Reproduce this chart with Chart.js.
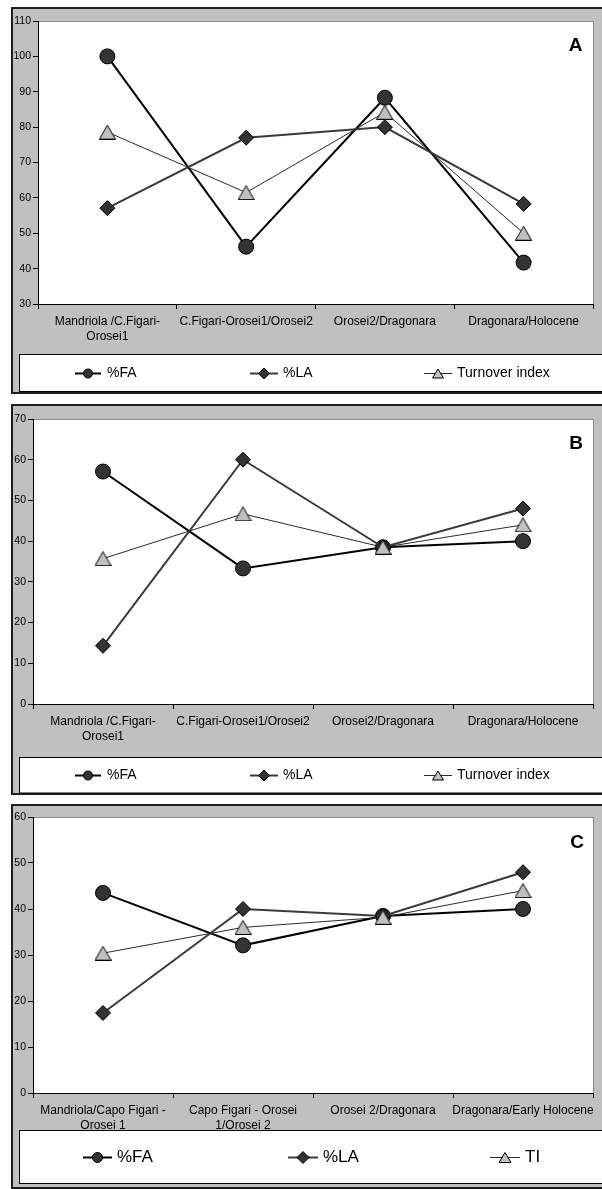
<!DOCTYPE html>
<html><head><meta charset="utf-8">
<script src="https://cdn.jsdelivr.net/npm/chart.js@4"></script>
<style>
html,body{margin:0;padding:0;background:#fff;}
body{width:602px;height:1189px;position:relative;overflow:hidden;}
canvas{position:absolute;left:0;}
</style></head><body>
<canvas id="cA" width="602" height="398" style="top:0px"></canvas>
<canvas id="cB" width="602" height="402" style="top:398px"></canvas>
<canvas id="cC" width="602" height="389" style="top:800px"></canvas>
<script>
// ---------- DATA ----------
const categoriesAB = [['Mandriola /C.Figari-', 'Orosei1'], 'C.Figari-Orosei1/Orosei2', 'Orosei2/Dragonara', 'Dragonara/Holocene'];
const categoriesC = [['Mandriola/Capo Figari -', 'Orosei 1'], ['Capo Figari - Orosei', '1/Orosei 2'], 'Orosei 2/Dragonara', 'Dragonara/Early Holocene'];
const seriesNamesAB = ['%FA', '%LA', 'Turnover index'];
const seriesNamesC = ['%FA', '%LA', 'TI'];

const faA = [100, 46.2, 88.3, 41.7];
const laA = [57.1, 77, 80, 58.3];
const tiA = [78.6, 61.5, 84.2, 50];

const faB = [57.1, 33.3, 38.5, 40];
const laB = [14.3, 60, 38.5, 48];
const tiB = [35.7, 46.7, 38.5, 44];

const faC = [43.5, 32.1, 38.5, 40];
const laC = [17.4, 40, 38.5, 48];
const tiC = [30.4, 36, 38.2, 44];

const yRangeA = [30, 110];
const yRangeB = [0, 70];
const yRangeC = [0, 60];
const yStep = 10;
const panelLetters = ['A', 'B', 'C'];

// ---------- STYLE HELPERS ----------
const FONT = '"Liberation Sans", Arial, sans-serif';

function makeTriangle(w, h) {
  const c = document.createElement('canvas');
  c.width = w; c.height = h;
  const g = c.getContext('2d');
  g.beginPath();
  g.moveTo(0.5, h - 0.5);
  g.lineTo(w / 2, 0.5);
  g.lineTo(w - 0.5, h - 0.5);
  g.closePath();
  g.fillStyle = '#c0c0c0';
  g.fill();
  g.strokeStyle = '#000';
  g.lineWidth = 1;
  g.stroke();
  return c;
}
const triImg = makeTriangle(17, 15);

function makeDecor(spec) {
  return {
    id: 'decor' + spec.letter,
    beforeDraw(chart) {
      const ctx = chart.ctx;
      ctx.save();
      ctx.fillStyle = '#c0c0c0';
      ctx.fillRect(spec.frameLeft, spec.frameTop, 700, spec.frameBottom - spec.frameTop);
      ctx.strokeStyle = '#1e1e1e';
      ctx.lineWidth = 2;
      ctx.strokeRect(spec.frameLeft, spec.frameTop, 700, spec.frameBottom - spec.frameTop);
      const a = chart.chartArea;
      ctx.fillStyle = '#fff';
      ctx.fillRect(a.left, a.top, a.right - a.left, a.bottom - a.top);
      ctx.strokeStyle = '#8c8c8c';
      ctx.lineWidth = 1;
      ctx.strokeRect(a.left + 0.5, a.top + 0.5, a.right - a.left, a.bottom - a.top);
      ctx.restore();
    },
    afterDraw(chart) {
      const ctx = chart.ctx;
      ctx.save();
      ctx.fillStyle = '#000';
      ctx.font = 'bold 19px ' + FONT;
      ctx.textAlign = 'center';
      ctx.textBaseline = 'middle';
      ctx.fillText(spec.letter, spec.letterX, spec.letterY);
      ctx.fillStyle = '#fff';
      ctx.fillRect(19.5, spec.legendTop, 700, spec.legendBottom - spec.legendTop);
      ctx.strokeStyle = '#000';
      ctx.lineWidth = 1;
      ctx.strokeRect(19.5, spec.legendTop, 700, spec.legendBottom - spec.legendTop);
      const cy = Math.round((spec.legendTop + spec.legendBottom) / 2) + 0.5;
      chart.data.datasets.forEach((ds, i) => {
        const it = spec.legendItems[i];
        ctx.beginPath();
        ctx.moveTo(it.x, cy);
        ctx.lineTo(it.x + it.w, cy);
        ctx.strokeStyle = ds.borderColor;
        ctx.lineWidth = ds.borderWidth;
        ctx.stroke();
        const mx = it.x + it.w / 2;
        const r = spec.legendMarker;
        ctx.beginPath();
        if (ds.pointStyle === 'circle') {
          ctx.arc(mx, cy, r, 0, Math.PI * 2);
        } else if (ds.pointStyle === 'rectRot') {
          ctx.moveTo(mx, cy - r - 1); ctx.lineTo(mx + r + 1, cy); ctx.lineTo(mx, cy + r + 1); ctx.lineTo(mx - r - 1, cy); ctx.closePath();
        } else {
          const w = r * 2 + 2, h = r * 2;
          ctx.moveTo(mx - w / 2, cy + h / 2); ctx.lineTo(mx, cy - h / 2); ctx.lineTo(mx + w / 2, cy + h / 2); ctx.closePath();
        }
        ctx.fillStyle = ds.legendFill;
        ctx.fill();
        ctx.strokeStyle = '#000';
        ctx.lineWidth = 1;
        ctx.stroke();
        ctx.fillStyle = '#000';
        ctx.font = spec.legendFont + 'px ' + FONT;
        ctx.textAlign = 'left';
        ctx.textBaseline = 'middle';
        ctx.fillText(ds.label, it.tx, cy);
      });
      ctx.restore();
    }
  };
}

function makeChart(id, cats, names, fa, la, ti, yRange, spec) {
  const datasets = [
    { label: names[0], data: fa, borderColor: '#000', borderWidth: 2, pointStyle: 'circle', pointRadius: 7.5,
      pointBackgroundColor: '#333', pointBorderColor: '#000', pointBorderWidth: 1, legendFill: '#333', order: 2 },
    { label: names[1], data: la, borderColor: '#3a3a3a', borderWidth: 2, pointStyle: 'rectRot', pointRadius: 7.5,
      pointBackgroundColor: '#333', pointBorderColor: '#000', pointBorderWidth: 1, legendFill: '#333', order: 1 },
    { label: names[2], data: ti, borderColor: '#2a2a2a', borderWidth: 1, pointStyle: triImg, pointRadius: 8,
      legendFill: '#c0c0c0', order: 0 }
  ];
  return new Chart(document.getElementById(id), {
    type: 'line',
    data: { labels: cats, datasets },
    plugins: [makeDecor(spec)],
    options: {
      responsive: false,
      animation: false,
      events: [],
      layout: { padding: { left: 0, top: spec.plotTop, right: 6, bottom: spec.padBottom } },
      plugins: { legend: { display: false }, tooltip: { enabled: false } },
      elements: { line: { tension: 0 } },
      scales: {
        x: {
          offset: true,
          grid: { offset: true, drawOnChartArea: false, drawTicks: true, tickLength: 5, color: '#000' },
          border: { color: '#000', width: 1 },
          ticks: { color: '#000', font: { family: FONT, size: 12, lineHeight: 1.25 }, padding: 5,
                   maxRotation: 0, minRotation: 0, autoSkip: false },
          afterFit(s) { s.height = spec.xHeight; }
        },
        y: {
          min: yRange[0], max: yRange[1],
          grid: { drawOnChartArea: false, drawTicks: true, tickLength: 5, color: '#000' },
          border: { color: '#000', width: 1 },
          ticks: { stepSize: yStep, color: '#000', font: { family: FONT, size: 10.5 }, padding: 2 },
          afterFit(s) { s.width = spec.plotLeft; }
        }
      }
    }
  });
}

const legendAB = [{ x: 75, w: 26, tx: 107 }, { x: 250, w: 28, tx: 283 }, { x: 424, w: 28, tx: 457 }];
const legendCC = [{ x: 83, w: 29, tx: 117 }, { x: 288, w: 30, tx: 323 }, { x: 490, w: 30, tx: 525 }];

makeChart('cA', categoriesAB, seriesNamesAB, faA, laA, tiA, yRangeA, {
  letter: panelLetters[0], letterX: 575.5, letterY: 46,
  frameLeft: 12, frameTop: 8, frameBottom: 393,
  plotTop: 21, plotLeft: 38, padBottom: 50, xHeight: 44,
  legendTop: 354.5, legendBottom: 391.5, legendFont: 14, legendMarker: 4.5, legendItems: legendAB
});
makeChart('cB', categoriesAB, seriesNamesAB, faB, laB, tiB, yRangeB, {
  letter: panelLetters[1], letterX: 576, letterY: 46,
  frameLeft: 12, frameTop: 7, frameBottom: 396,
  plotTop: 21, plotLeft: 33, padBottom: 52, xHeight: 44,
  legendTop: 359.5, legendBottom: 395, legendFont: 14, legendMarker: 4.5, legendItems: legendAB
});
makeChart('cC', categoriesC, seriesNamesC, faC, laC, tiC, yRangeC, {
  letter: panelLetters[2], letterX: 577, letterY: 43,
  frameLeft: 12, frameTop: 5, frameBottom: 388,
  plotTop: 17, plotLeft: 33, padBottom: 59, xHeight: 37,
  legendTop: 330.5, legendBottom: 383.5, legendFont: 17, legendMarker: 5, legendItems: legendCC
});
</script>
</body></html>
